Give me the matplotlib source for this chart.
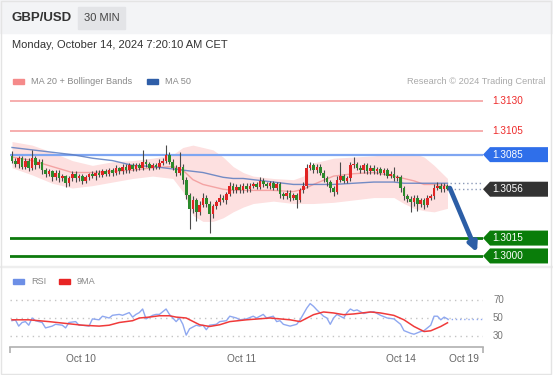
import matplotlib
matplotlib.use('Agg')
import matplotlib.pyplot as plt
import matplotlib.transforms as mtransforms
from matplotlib.patches import Rectangle, Polygon

plt.rcParams['font.family'] = ['Liberation Sans', 'DejaVu Sans']

# ---- price data (30 min candles, GBP/USD) ----
first_open = 1.3084
closes = [1.3080, 1.3077, 1.3082, 1.3075, 1.3080, 1.3074, 1.3082, 1.3076, 1.3079, 1.3072,
          1.3069, 1.3071, 1.3066, 1.3070, 1.3065, 1.3067, 1.3061, 1.3065, 1.3069, 1.3065,
          1.3067, 1.3063, 1.3066, 1.3069, 1.3067, 1.3070, 1.3068, 1.3071, 1.3069, 1.3072,
          1.3070, 1.3074, 1.3071, 1.3075, 1.3072, 1.3076, 1.3073, 1.3076, 1.3074, 1.3079,
          1.3077, 1.3074, 1.3076, 1.3075, 1.3078, 1.3080, 1.3085, 1.3079, 1.3074, 1.3070,
          1.3075, 1.3064, 1.3051, 1.3039, 1.3047, 1.3037, 1.3043, 1.3049, 1.3044, 1.3035,
          1.3042, 1.3045, 1.3049, 1.3047, 1.3052, 1.3059, 1.3055, 1.3058, 1.3055, 1.3059,
          1.3056, 1.3059, 1.3060, 1.3058, 1.3063, 1.3060, 1.3059, 1.3061, 1.3057, 1.3060,
          1.3052, 1.3050, 1.3053, 1.3049, 1.3051, 1.3047, 1.3055, 1.3059, 1.3074, 1.3076,
          1.3072, 1.3075, 1.3070, 1.3065, 1.3062, 1.3057, 1.3054, 1.3064, 1.3067, 1.3063,
          1.3065, 1.3076, 1.3077, 1.3074, 1.3072, 1.3076, 1.3071, 1.3074, 1.3071, 1.3073,
          1.3070, 1.3072, 1.3067, 1.3069, 1.3065, 1.3066, 1.3057, 1.3050, 1.3048, 1.3045,
          1.3049, 1.3044, 1.3047, 1.3043, 1.3049, 1.3050, 1.3057, 1.3059, 1.3056, 1.3059,
          1.3056]
# wick lengths in pips above / below the body
upper_wick = [4, 2, 2, 2, 2, 2, 7, 2, 2, 2,
              2, 2, 1, 2, 2, 2, 1, 2, 2, 2,
              2, 2, 2, 1, 2, 2, 2, 2, 2, 2,
              2, 2, 1, 2, 2, 2, 2, 2, 2, 10,
              2, 2, 2, 2, 3, 2, 8, 2, 2, 2,
              12, 2, 2, 2, 3, 2, 3, 4, 2, 2,
              2, 2, 3, 2, 2, 3, 2, 2, 2, 2,
              2, 2, 2, 2, 3, 2, 2, 2, 2, 2,
              2, 2, 2, 2, 2, 2, 2, 3, 3, 3,
              2, 2, 2, 2, 2, 2, 2, 3, 12, 2,
              2, 3, 6, 2, 2, 2, 2, 2, 2, 2,
              2, 2, 2, 2, 6, 2, 2, 2, 2, 2,
              2, 2, 2, 2, 2, 2, 3, 3, 2, 2,
              1]
lower_wick = [2, 2, 3, 2, 2, 3, 2, 3, 2, 3,
              3, 2, 3, 2, 3, 2, 3, 2, 2, 3,
              2, 3, 2, 2, 2, 3, 2, 2, 2, 2,
              3, 2, 2, 2, 2, 2, 2, 2, 2, 2,
              2, 2, 2, 2, 2, 2, 2, 2, 2, 3,
              2, 4, 3, 16, 3, 8, 3, 2, 3, 16,
              3, 3, 2, 2, 3, 2, 2, 2, 2, 2,
              2, 2, 2, 2, 2, 2, 2, 3, 2, 2,
              3, 2, 2, 3, 2, 7, 2, 2, 2, 2,
              2, 2, 2, 3, 3, 3, 4, 2, 2, 2,
              2, 2, 2, 2, 2, 2, 2, 2, 2, 2,
              2, 2, 2, 2, 2, 2, 3, 3, 3, 8,
              3, 6, 3, 4, 2, 2, 2, 2, 2, 2,
              1]

# indicators sampled at candle positions
ind_idx = [0, 6, 12, 18, 24, 30, 36, 42, 48, 51, 54, 57, 60, 63, 66, 69, 72, 78, 84, 87,
           90, 96, 102, 108, 114, 117, 120, 123, 126, 130]
bb_upper = [1.3096, 1.3093, 1.3087, 1.3080, 1.3076, 1.3079, 1.3080, 1.3082, 1.3085, 1.3091,
            1.3093, 1.3091, 1.3089, 1.3083, 1.3075, 1.3070, 1.3067, 1.3065, 1.3064, 1.3067,
            1.3078, 1.3082, 1.3083, 1.3084, 1.3086, 1.3086, 1.3086, 1.3083, 1.3076, 1.3065]
bb_lower = [1.3074, 1.3068, 1.3061, 1.3057, 1.3059, 1.3062, 1.3065, 1.3067, 1.3065, 1.3054,
            1.3034, 1.3029, 1.3029, 1.3032, 1.3037, 1.3041, 1.3044, 1.3046, 1.3044, 1.3044,
            1.3044, 1.3045, 1.3047, 1.3049, 1.3049, 1.3044, 1.3040, 1.3038, 1.3037, 1.3040]
ma20 = [1.3083, 1.3080, 1.3075, 1.3070, 1.3070, 1.3071, 1.3072, 1.3074, 1.3075, 1.3072,
        1.3064, 1.3060, 1.3058, 1.3056, 1.3055, 1.3055, 1.3055, 1.3055, 1.3054, 1.3056,
        1.3060, 1.3067, 1.3069, 1.3070, 1.3067, 1.3065, 1.3063, 1.3060, 1.3060, 1.3059]
ma50 = [1.3091, 1.3089, 1.3087, 1.3085, 1.3082, 1.3080, 1.3076, 1.3075, 1.3073, 1.3072,
        1.3071, 1.3070, 1.3068, 1.3066, 1.3065, 1.3065, 1.3064, 1.3062, 1.3060, 1.3060,
        1.3060, 1.3060, 1.3061, 1.3062, 1.3062, 1.3061, 1.3061, 1.3061, 1.3061, 1.3061]

# RSI pane
rsi_idx = [0, 1, 2, 3, 4, 5, 6, 7, 9, 10, 12, 13, 15, 16, 17, 19, 20, 21, 23, 24,
           26, 27, 29, 30, 32, 33, 35, 36, 37, 38, 39, 40, 42, 43, 44, 46, 47, 48, 49, 50,
           51, 52, 53, 55, 56, 57, 58, 59, 61, 62, 64, 65, 67, 68, 70, 72, 73, 75, 76, 78,
           79, 80, 81, 83, 85, 86, 88, 89, 90, 91, 93, 94, 95, 96, 97, 99, 100, 101, 102, 103,
           105, 106, 108, 110, 112, 114, 116, 117, 119, 120, 122, 123, 125, 126, 127, 128, 129, 130]
rsi = [47, 48, 41, 45, 46, 42, 50, 47, 45, 39, 41, 43, 42, 39, 45, 46, 42, 42, 41, 49,
       48, 52, 50, 53, 54, 53, 56, 51, 54, 56, 60, 49, 53, 54, 54, 60, 54, 50, 46, 50,
       43, 31, 38, 42, 41, 42, 37, 42, 43, 46, 47, 52, 50, 48, 49, 52, 50, 54, 50, 52,
       46, 47, 43, 41, 43, 48, 61, 66, 63, 59, 52, 50, 43, 50, 54, 50, 56, 60, 58, 59,
       55, 56, 57, 53, 50, 49, 43, 36, 33, 32, 35, 36, 42, 52, 52, 48, 51, 49]
ma9_idx = [0, 5, 11, 16, 21, 26, 29, 32, 36, 38, 41, 44, 47, 49, 52, 56, 59, 62, 65, 70,
           77, 83, 86, 90, 93, 96, 99, 102, 107, 110, 114, 117, 120, 123, 125, 128, 130]
rsi_ma9 = [48, 48, 46, 44, 42, 41, 42, 45, 47, 50, 51, 52.5, 52.5, 51, 50, 42.5, 40.6, 42.5, 46, 48,
           50, 48, 46, 53.7, 56.7, 55.6, 53.7, 54.5, 56.7, 55.6, 52.9, 48, 40.6, 35, 35.8, 40.6, 44.7]

date_pos = [20.5, 68.5, 116, 135]
date_labels = ['Oct 10', 'Oct 11', 'Oct 14', 'Oct 19']

resist = [1.3130, 1.3105]
pivot = 1.3085
last_price = 1.3056
supports = [1.3015, 1.3000]
target = 1.3003

W, H = 553, 375
fig = plt.figure(figsize=(W / 100, H / 100), dpi=100)
fig.patch.set_facecolor('white')

# header band and frames
fig.patches.append(Rectangle((0, 1 - 33 / H), 1, 33 / H, transform=fig.transFigure, color='#f3f4f6', zorder=0))
fig.patches.append(Rectangle((78 / W, 1 - 29 / H), 47 / W, 22 / H, transform=fig.transFigure, color='#e3e4e7', zorder=1))
fig.patches.append(Rectangle((0, 1 - 267 / H), 1, 1.5 / H, transform=fig.transFigure, color='#eeeeee', zorder=0))
fig.patches.append(Rectangle((0.002, 0.003), 0.995, 0.994, transform=fig.transFigure, fill=False,
                             ec='#e4e4e4', lw=1, zorder=0))

fig.text(12 / W, 1 - 18 / H, 'GBP/USD', fontsize=9.5, weight='bold', color='#333333', va='center')
fig.text(101.5 / W, 1 - 18 / H, '30 MIN', fontsize=8, color='#444444', va='center', ha='center')
fig.text(12 / W, 1 - 45 / H, 'Monday, October 14, 2024 7:20:10 AM CET', fontsize=8, color='#333333', va='center')

# legends
def legend_patch(x, y, color):
    fig.patches.append(Rectangle((x / W, 1 - (y + 2.5) / H), 11 / W, 5 / H, transform=fig.transFigure,
                                 color=color, zorder=2))

legend_patch(13, 81, '#f58a8a')
fig.text(31 / W, 1 - 81 / H, 'MA 20 + Bollinger Bands', fontsize=6.6, color='#888888', va='center')
legend_patch(147, 81, '#2f5ea8')
fig.text(165 / W, 1 - 81 / H, 'MA 50', fontsize=6.6, color='#888888', va='center')
fig.text(545 / W, 1 - 81 / H, 'Research \u00a9 2024 Trading Central', fontsize=6.7, color='#aaaaaa',
         va='center', ha='right')
legend_patch(13, 281, '#6d8fe6')
fig.text(31 / W, 1 - 281 / H, 'RSI', fontsize=6.6, color='#888888', va='center')
legend_patch(59, 281, '#e82424')
fig.text(77 / W, 1 - 281 / H, '9MA', fontsize=6.6, color='#888888', va='center')

# ---- main price axes ----
ax = fig.add_axes([10 / W, 1 - 262 / H, 473 / W, 170 / H])
ax.set_xlim(-0.6, 140.6)
ax.set_ylim(1.299493, 1.313755)
ax.axis('off')

ax.fill_between(ind_idx, bb_lower, bb_upper, color='#fde0e0', lw=0, zorder=1)
ax.plot(ind_idx, ma20, color='#f4a3a3', lw=1, zorder=2)
ax.plot(ind_idx, ma50, color='#5b7cc0', lw=1, alpha=0.85, zorder=2)

for r in resist:
    ax.axhline(r, color='#f6a8a8', lw=1.3, zorder=1.5)
ax.axhline(pivot, color='#7fa6f2', lw=1.6, zorder=1.5)
for s in supports:
    ax.axhline(s, color='#0d7a0d', lw=2, zorder=1.5)

opens = [first_open] + closes[:-1]
idx = list(range(len(closes)))
for i in idx:
    o, c = opens[i], closes[i]
    hi = max(o, c) + upper_wick[i] * 0.0001
    lo = min(o, c) - lower_wick[i] * 0.0001
    col = '#2b8a2b' if c <= o else '#e02424'
    ax.vlines(i, lo, hi, color='#4a4a4a', lw=0.8, zorder=3)
    body = abs(c - o) if abs(c - o) > 0.00004 else 0.00004
    ax.bar(i, body, bottom=min(o, c), width=0.8, color=col, lw=0, zorder=4)

# dotted extensions from the last candle
ax.plot([idx[-1] + 0.8, 140.6], [ma50[-1], ma50[-1]], ls=(0, (1, 2)), color='#8c9ab8', lw=1, zorder=2)
ax.plot([idx[-1] + 0.8, 140.6], [last_price, last_price], ls=(0, (1, 2)), color='#8c9ab8', lw=1, zorder=2)

# forecast arrow
ax.annotate('', xy=(138.8, target), xytext=(idx[-1] + 0.7, 1.3057),
            arrowprops=dict(arrowstyle='-|>', color='#2c5ea6', lw=3.4, mutation_scale=13,
                            shrinkA=0, shrinkB=0),
            annotation_clip=False, zorder=5)

# right-hand price labels
trans = mtransforms.blended_transform_factory(ax.transAxes, ax.transData)
half = 7.5 / 11920
tip = 7 / 473
box_w = 65 / 473

def price_box(p, text, fc):
    pts = [(1.0, p), (1.0 + tip, p + half), (1.0 + box_w, p + half),
           (1.0 + box_w, p - half), (1.0 + tip, p - half)]
    ax.add_patch(Polygon(pts, closed=True, transform=trans, fc=fc, ec='none', clip_on=False, zorder=6))
    ax.text(1.0 + 9 / 473, p, text, transform=trans, color='white', fontsize=7.2, va='center',
            clip_on=False, zorder=7)

for r in resist:
    ax.text(1.0 + 9 / 473, r, f'{r:.4f}', transform=trans, color='#ee2a2a', fontsize=7.2,
            va='center', clip_on=False)
price_box(pivot, f'{pivot:.4f}', '#2f6fea')
price_box(last_price, f'{last_price:.4f}', '#333333')
for s in supports:
    price_box(s, f'{s:.4f}', '#0a7d0a')

# ---- RSI axes ----
ax2 = fig.add_axes([10 / W, 1 - 347 / H, 473 / W, 57 / H])
ax2.set_xlim(-0.6, 140.6)
ax2.set_ylim(17.8, 81.1)
trans2 = mtransforms.blended_transform_factory(ax2.transAxes, ax2.transData)
for lvl in [70, 50, 30]:
    ax2.axhline(lvl, color='#c4c4c4', lw=1, ls=(0, (1, 3)), zorder=1)
    ax2.text(1.0 + 10 / 473, lvl, str(lvl), transform=trans2,
             fontsize=7, color='#777777', va='center', clip_on=False)
ax2.plot(rsi_idx, rsi, color='#8fa8f0', lw=1, zorder=2)
ax2.plot(ma9_idx, rsi_ma9, color='#f03a3a', lw=1.1, zorder=3)
ax2.plot([rsi_idx[-1], 140.6], [rsi[-1], rsi[-1]], color='#8fa8f0', lw=1, ls=(0, (1, 2)), zorder=2)

for sp in ['top', 'left', 'right']:
    ax2.spines[sp].set_visible(False)
ax2.spines['bottom'].set_color('#b0b0b0')
ax2.spines['bottom'].set_linewidth(1.2)
ax2.set_yticks([])
ax2.set_xticks(date_pos)
ax2.set_xticklabels(date_labels, fontsize=7.3, color='#666666')
ax2.tick_params(axis='x', length=0, pad=5)
ax2.set_xticks([-0.6, 140.6], minor=True)
ax2.tick_params(axis='x', which='minor', length=4, width=1.2, color='#b0b0b0', direction='out')
ax2.patch.set_alpha(0)

plt.savefig('out.png', dpi=100)
